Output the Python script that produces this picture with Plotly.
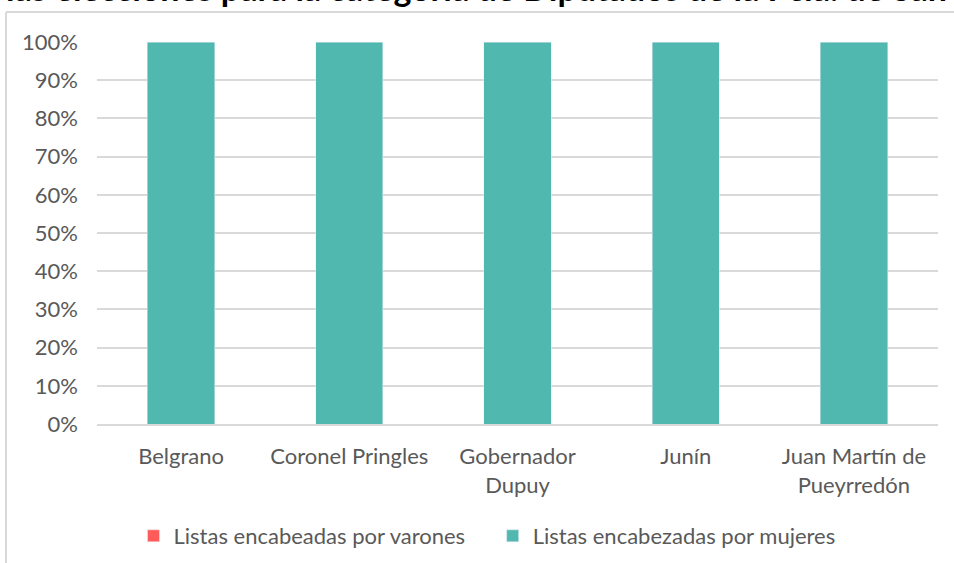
import plotly.graph_objects as go

categories = ["Belgrano", "Coronel Pringles", "Gobernador<br>Dupuy", "Junín", "Juan Martín de<br>Pueyrredón"]
varones = [0, 0, 0, 0, 0]
mujeres = [100, 100, 100, 100, 100]
y_ticks = [0, 10, 20, 30, 40, 50, 60, 70, 80, 90, 100]
y_tick_labels = [f"{v}%" for v in y_ticks]
series_names = ["Listas encabeadas por varones", "Listas encabezadas por mujeres"]
title_text = "las elecciones para la categoría de Diputados de la Pcia. de San"

FONT = "Lato"
W, H = 954, 563
L, R, T, B = 97, 16, 42, 139
PW, PH = W - L - R, H - T - B

def px_x(px):
    return (px - L) / PW

def px_y(py):
    return (H - B - py) / PH

fig = go.Figure()
fig.add_trace(go.Bar(x=categories, y=varones,
                     name=series_names[0] + "\u00a0" * 4,
                     marker_color="#FF5B5B"))
fig.add_trace(go.Bar(x=categories, y=mujeres, name=series_names[1],
                     marker_color="#51B8B0"))

fig.update_layout(
    width=W, height=H,
    margin=dict(l=L, r=R, t=T, b=B, autoexpand=False),
    barmode="stack",
    bargap=0.6,
    plot_bgcolor="white", paper_bgcolor="white",
    font=dict(family=FONT, size=22, color="#595959"),
    showlegend=True,
    legend=dict(orientation="h", x=px_x(487), xanchor="center", y=px_y(536), yanchor="middle",
                font=dict(family=FONT, size=22, color="#595959"), traceorder="normal",
                itemwidth=30),
    xaxis=dict(showgrid=False, showline=True, linecolor="#D9D9D9", linewidth=1.5,
               ticks="", tickfont=dict(family=FONT, size=22, color="#595959"),
               ticklabelstandoff=12, automargin=False),
    yaxis=dict(range=[0, 100], tickvals=y_ticks, ticktext=y_tick_labels,
               showgrid=True, gridcolor="#D9D9D9", gridwidth=1.5, zeroline=False,
               showline=False, ticks="", ticklabelstandoff=18, automargin=False,
               tickfont=dict(family=FONT, size=22, color="#595959")),
    shapes=[
        dict(type="line", xref="paper", yref="paper", x0=px_x(6), x1=px_x(6),
             y0=px_y(575), y1=px_y(12), line=dict(color="#D9D9D9", width=2)),
        dict(type="line", xref="paper", yref="paper", x0=px_x(6), x1=px_x(960),
             y0=px_y(12), y1=px_y(12), line=dict(color="#D9D9D9", width=2)),
    ],
    annotations=[
        dict(text=f"<b>{title_text}</b>", xref="paper", yref="paper",
             x=px_x(476), y=px_y(10), xanchor="center", yanchor="bottom",
             showarrow=False, font=dict(family=FONT, size=34, color="black")),
    ],
)

fig.write_html("out.html", config={"displayModeBar": False},
               post_script="document.body.style.margin='0';document.body.style.overflow='hidden';")
